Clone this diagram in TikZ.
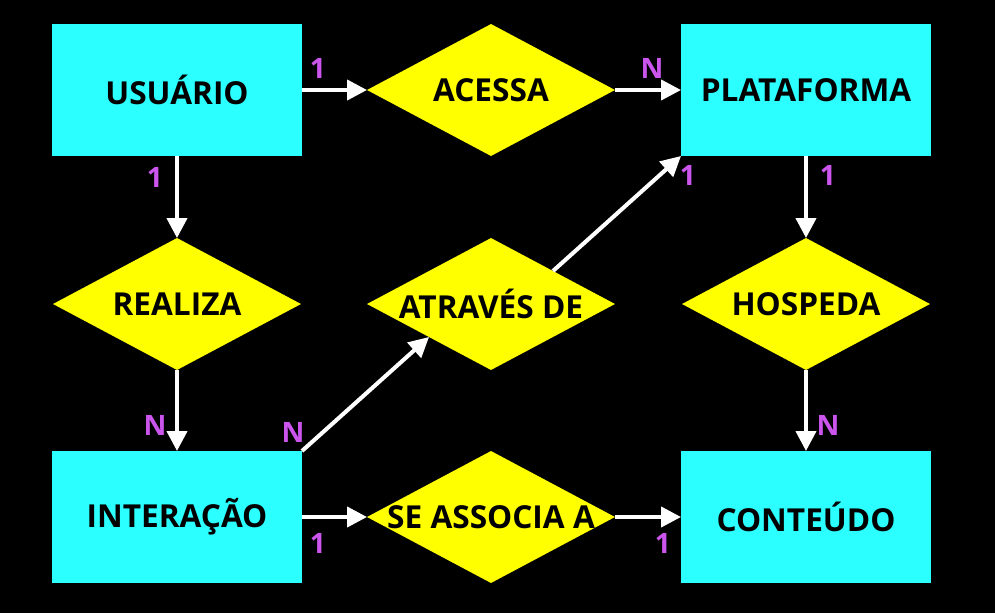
\documentclass[tikz,border=0pt]{standalone}
\usepackage{fontspec}
\setmainfont{Open Sans}
\usetikzlibrary{shapes.geometric,arrows.meta}
\definecolor{entcyan}{RGB}{44,255,255}
\definecolor{relyellow}{RGB}{255,255,0}
\definecolor{cardpurple}{RGB}{204,85,238}

\begin{document}
\begin{tikzpicture}[x=0.02cm, y=-0.02cm, font=\bfseries\fontsize{18}{20}\selectfont, line join=round,
		ent/.style={fill=entcyan, minimum width=5cm, minimum height=2.64cm, inner sep=0pt, outer sep=0pt},
		rel/.style={diamond, fill=relyellow, minimum width=4.96cm, minimum height=2.64cm, inner sep=0pt, outer sep=0pt},
		card/.style={text=cardpurple, font=\bfseries\fontsize{16}{18}\selectfont, inner sep=0pt},
		link/.style={draw=white, line width=2.3pt, -{Triangle[length=0.4cm, width=0.4cm]}}]
		\fill[black] (0,0) rectangle (995,613);
		\useasboundingbox (0,0) rectangle (995,613);
		% entidades
		\node[ent] (usuario) at (177,90) {USUÁRIO};
		\node[ent] (plataforma) at (806,90) {PLATAFORMA};
		\node[ent] (interacao) at (177,517) {INTERAÇÃO};
		\node[ent] (conteudo) at (806,517) {CONTEÚDO};
		% relacionamentos
		\node[rel] (acessa) at (491,90) {\makebox[0pt]{ACESSA}};
		\node[rel] (realiza) at (177,304) {\makebox[0pt]{REALIZA}};
		\node[rel] (atraves) at (491,304) {\makebox[0pt]{ATRAVÉS DE}};
		\node[rel] (hospeda) at (806,304) {\makebox[0pt]{HOSPEDA}};
		\node[rel] (associa) at (491,517) {\makebox[0pt]{SE ASSOCIA A}};
		% ligacoes
		\draw[link] (usuario) -- (acessa);
		\draw[link] (acessa) -- (plataforma);
		\draw[link] (usuario) -- (realiza);
		\draw[link] (realiza) -- (interacao);
		\draw[link] (interacao.north east) -- (atraves.south west);
		\draw[link] (atraves.north east) -- (plataforma.south west);
		\draw[link] (plataforma) -- (hospeda);
		\draw[link] (hospeda) -- (conteudo);
		\draw[link] (interacao) -- (associa);
		\draw[link] (associa) -- (conteudo);
		% cardinalidades
		\node[card] (c1) at (318,68) {1};
		\node[card] (c2) at (652,68) {N};
		\node[card] (c3) at (155,177) {1};
		\node[card] (c4) at (688,175) {1};
		\node[card] (c5) at (828,175) {1};
		\node[card] (c6) at (155,425) {N};
		\node[card] (c7) at (293,432) {N};
		\node[card] (c8) at (828,425) {N};
		\node[card] (c9) at (318,543) {1};
		\node[card] (c10) at (663,543) {1};
	\end{tikzpicture}
\end{document}
